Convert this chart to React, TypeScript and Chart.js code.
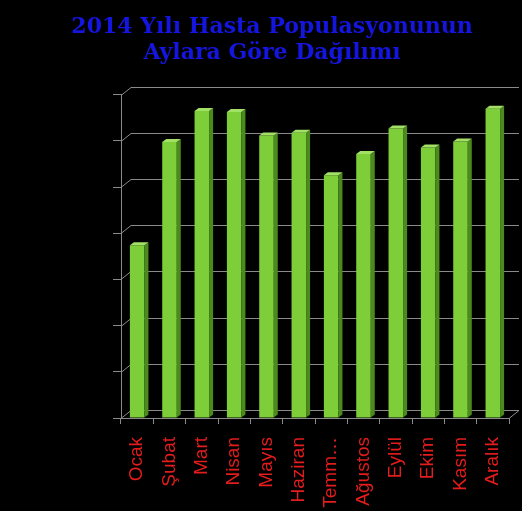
import { useEffect, useRef } from "react";
import { Chart, registerables } from "chart.js";

Chart.register(...registerables);

const titleLines = ["2014 Yılı Hasta Populasyonunun", "Aylara Göre Dağılımı"];
const months = ["Ocak", "Şubat", "Mart", "Nisan", "Mayıs", "Haziran", "Temmuz", "Ağustos", "Eylül", "Ekim", "Kasım", "Aralık"];
const monthTickLabels = ["Ocak", "Şubat", "Mart", "Nisan", "Mayıs", "Haziran", "Temm…", "Ağustos", "Eylül", "Ekim", "Kasım", "Aralık"];
const patients = [3740, 5980, 6650, 6630, 6120, 6180, 5260, 5720, 6270, 5860, 5990, 6700];
const yMin = 0;
const yMax = 7000;
const yStep = 1000;

const GRID = "#8a8a8a";
const FRONT = "#7dce38";
const SIDE = "#4b8a1d";
const TOP = "#a3e066";
const WALL_DX = 10;
const WALL_DY = 8;
const BAR_DX = 4;
const BAR_DY = 3;

const depthPlugin = {
  id: "depth3d",
  beforeDatasetsDraw(chart: any) {
    const { ctx, chartArea, scales } = chart;
    const ys = scales.y;
    ctx.save();
    ctx.strokeStyle = GRID;
    ctx.lineWidth = 1;
    for (let v = yMin; v <= yMax; v += yStep) {
      const py = Math.round(ys.getPixelForValue(v)) + 0.5;
      ctx.beginPath();
      ctx.moveTo(chartArea.left, py);
      ctx.lineTo(chartArea.left + WALL_DX, py - WALL_DY);
      ctx.lineTo(chartArea.right + WALL_DX, py - WALL_DY);
      ctx.stroke();
    }
    const by = Math.round(ys.getPixelForValue(yMin)) + 0.5;
    ctx.beginPath();
    ctx.moveTo(chartArea.right, by);
    ctx.lineTo(chartArea.right + WALL_DX, by - WALL_DY);
    ctx.stroke();
    ctx.restore();
  },
  afterDatasetsDraw(chart: any) {
    const { ctx } = chart;
    const meta = chart.getDatasetMeta(0);
    ctx.save();
    meta.data.forEach((bar: any) => {
      const { x, y, base, width } = bar.getProps(["x", "y", "base", "width"], true);
      const l = x - width / 2;
      const r = x + width / 2;
      ctx.fillStyle = SIDE;
      ctx.beginPath();
      ctx.moveTo(r, y);
      ctx.lineTo(r + BAR_DX, y - BAR_DY);
      ctx.lineTo(r + BAR_DX, base - BAR_DY);
      ctx.lineTo(r, base);
      ctx.closePath();
      ctx.fill();
      ctx.fillStyle = TOP;
      ctx.beginPath();
      ctx.moveTo(l, y);
      ctx.lineTo(l + BAR_DX, y - BAR_DY);
      ctx.lineTo(r + BAR_DX, y - BAR_DY);
      ctx.lineTo(r, y);
      ctx.closePath();
      ctx.fill();
    });
    ctx.restore();
  },
};

export default function App() {
  const ref = useRef<HTMLCanvasElement | null>(null);
  useEffect(() => {
    if (!ref.current) return;
    const chart = new Chart(ref.current, {
      type: "bar",
      data: {
        labels: months,
        datasets: [
          {
            data: patients,
            backgroundColor: FRONT,
            borderWidth: 0,
            categoryPercentage: 1,
            barPercentage: 0.45,
          },
        ],
      },
      options: {
        responsive: false,
        animation: false,
        layout: { padding: { top: 0, left: 35, right: 13, bottom: 0 } },
        plugins: {
          legend: { display: false },
          tooltip: { enabled: false },
          title: {
            display: true,
            text: titleLines,
            color: "#1515e0",
            font: { family: "'DejaVu Serif', serif", size: 22, weight: "bold", lineHeight: 1.2 },
            padding: { top: 14, bottom: 28 },
          },
        },
        scales: {
          x: {
            grid: { display: true, drawOnChartArea: false, drawTicks: true, tickLength: 6, color: GRID },
            border: { display: true, color: GRID },
            ticks: {
              color: "#e41c1c",
              font: { family: "'Liberation Sans', Arial, sans-serif", size: 19 },
              minRotation: 90,
              maxRotation: 90,
              autoSkip: false,
              padding: 13,
              callback: (_v: any, i: number) => monthTickLabels[i],
            },
            afterFit: (scale: any) => {
              scale.height = 93;
              scale.paddingLeft = 0;
              scale.paddingRight = 0;
            },
          },
          y: {
            min: yMin,
            max: yMax,
            grid: { display: true, drawOnChartArea: false, drawTicks: true, tickLength: 8, color: GRID },
            border: { display: true, color: GRID },
            ticks: { display: false, stepSize: yStep },
            afterFit: (scale: any) => {
              scale.width = 86;
            },
          },
        },
      },
      plugins: [depthPlugin],
    });
    return () => chart.destroy();
  }, []);
  return (
    <div style={{ position: "absolute", left: 0, top: 0, width: 522, height: 511, background: "#000" }}>
      <canvas ref={ref} width={522} height={511} style={{ display: "block" }} />
    </div>
  );
}
